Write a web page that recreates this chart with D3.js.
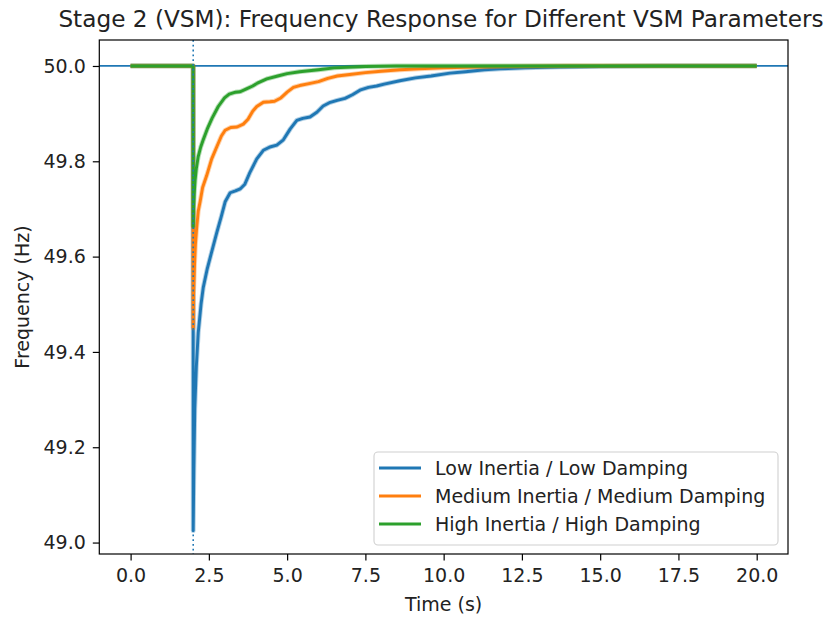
<!DOCTYPE html>
<html>
<head>
<meta charset="utf-8">
<script src="https://cdn.jsdelivr.net/npm/d3@7"></script>
<style>
  html, body { margin: 0; padding: 0; background: #fff; }
  svg { display: block; font-family: "DejaVu Sans", sans-serif; }
</style>
</head>
<body>
<svg id="chart" width="828" height="619"></svg>
<script>
// ---------------- data ----------------
const seriesNames = ["Low Inertia / Low Damping", "Medium Inertia / Medium Damping", "High Inertia / High Damping"];
const seriesColors = ["#1f77b4", "#ff7f0e", "#2ca02c"];

const lowTime = [0, 1.999, 2.0, 2.02, 2.05, 2.1, 2.16, 2.25, 2.32, 2.45, 2.55, 2.75, 2.9, 3.02, 3.18, 3.35, 3.5, 3.65, 3.8, 4.03, 4.24, 4.45, 4.67, 4.88, 5.1, 5.31, 5.5, 5.73, 5.95, 6.15, 6.35, 6.6, 6.85, 7.1, 7.35, 7.6, 7.86, 8.1, 8.6, 9.1, 9.6, 10.2, 10.7, 11.3, 11.8, 12.6, 13.7, 15, 17, 20];
const lowFreq = [50.0, 50.0, 49.025, 49.15, 49.28, 49.37, 49.44, 49.5, 49.535, 49.575, 49.6, 49.65, 49.685, 49.715, 49.734, 49.738, 49.742, 49.752, 49.775, 49.805, 49.823, 49.83, 49.834, 49.845, 49.868, 49.886, 49.89, 49.893, 49.903, 49.916, 49.923, 49.928, 49.932, 49.94, 49.95, 49.955, 49.958, 49.962, 49.969, 49.975, 49.979, 49.985, 49.988, 49.992, 49.994, 49.996, 49.998, 49.999, 50.0, 50.0];

const medTime = [0, 1.999, 2.0, 2.01, 2.04, 2.07, 2.11, 2.16, 2.22, 2.3, 2.43, 2.59, 2.75, 2.9, 3.02, 3.2, 3.4, 3.6, 3.75, 3.9, 4.03, 4.24, 4.45, 4.6, 4.8, 5.0, 5.2, 5.4, 5.7, 6.0, 6.3, 6.6, 7.0, 7.5, 8.0, 8.6, 9.2, 10, 11, 12, 14, 20];
const medFreq = [50.0, 50.0, 49.45, 49.52, 49.58, 49.625, 49.66, 49.695, 49.715, 49.745, 49.77, 49.805, 49.83, 49.853, 49.865, 49.871, 49.872, 49.878, 49.888, 49.905, 49.915, 49.924, 49.925, 49.926, 49.933, 49.945, 49.955, 49.959, 49.963, 49.967, 49.974, 49.979, 49.982, 49.986, 49.989, 49.992, 49.994, 49.996, 49.998, 49.999, 50.0, 50.0];

const highTime = [0, 1.999, 2.0, 2.01, 2.03, 2.06, 2.1, 2.16, 2.24, 2.32, 2.45, 2.6, 2.8, 3.0, 3.15, 3.35, 3.5, 3.7, 3.9, 4.05, 4.35, 4.7, 5.0, 5.4, 6.0, 6.5, 7.5, 8.5, 20];
const highFreq = [50.0, 50.0, 49.663, 49.7, 49.73, 49.76, 49.785, 49.81, 49.83, 49.845, 49.868, 49.89, 49.915, 49.933, 49.941, 49.945, 49.946, 49.952, 49.958, 49.964, 49.973, 49.979, 49.984, 49.988, 49.992, 49.996, 49.999, 50.0, 50.0];

const xTicks = [0, 2.5, 5, 7.5, 10, 12.5, 15, 17.5, 20];
const yTicks = [49.0, 49.2, 49.4, 49.6, 49.8, 50.0];
const nominalFreq = 50.0;
const eventTime = 2.0;

// ---------------- layout ----------------
const svg = d3.select("#chart");
const L = 99.3, R = 788, T = 40, B = 554;
const FS = 19;

const x = d3.scaleLinear().domain([-1, 21]).range([L, R]);
const y = d3.scaleLinear().domain([48.976, 50.0545]).range([B, T]);

const clipId = "plotclip";
svg.append("defs").append("clipPath").attr("id", clipId)
  .append("rect").attr("x", L).attr("y", T).attr("width", R - L).attr("height", B - T);

const plot = svg.append("g").attr("clip-path", `url(#${clipId})`);

// horizontal reference line (nominal)
plot.append("line")
  .attr("x1", L).attr("x2", R)
  .attr("y1", y(nominalFreq)).attr("y2", y(nominalFreq))
  .attr("stroke", "#1f77b4").attr("stroke-width", 1.8);

const series = [
  { t: lowTime, f: lowFreq },
  { t: medTime, f: medFreq },
  { t: highTime, f: highFreq }
];

const line = d3.line().x(d => x(d[0])).y(d => y(d[1]));

series.forEach((s, i) => {
  const pts = s.t.map((t, k) => [t, s.f[k]]);
  plot.append("path").datum(pts)
    .attr("d", line).attr("fill", "none")
    .attr("stroke", seriesColors[i]).attr("stroke-width", 4.8)
    .attr("stroke-opacity", 0.35).attr("stroke-linejoin", "round");
  plot.append("path").datum(pts)
    .attr("d", line).attr("fill", "none")
    .attr("stroke", seriesColors[i]).attr("stroke-width", 2.9)
    .attr("stroke-linejoin", "round");
});

// event line (dotted)
plot.append("line")
  .attr("x1", x(eventTime)).attr("x2", x(eventTime))
  .attr("y1", T).attr("y2", B)
  .attr("stroke", "#1f77b4").attr("stroke-width", 1.6)
  .attr("stroke-dasharray", "1.8,3");

// ---------------- axes ----------------
const xAxis = d3.axisBottom(x).tickValues(xTicks).tickFormat(d3.format(".1f")).tickSizeOuter(0).tickSize(6.5).tickPadding(8.5);
const yAxis = d3.axisLeft(y).tickValues(yTicks).tickFormat(d3.format(".1f")).tickSizeOuter(0).tickSize(6.5).tickPadding(7);

const gx = svg.append("g").attr("transform", `translate(0,${B})`).call(xAxis);
const gy = svg.append("g").attr("transform", `translate(${L},0)`).call(yAxis);
[gx, gy].forEach(g => {
  g.select(".domain").remove();
  g.selectAll(".tick line").attr("stroke", "#000").attr("stroke-width", 1.2);
  g.selectAll(".tick text").attr("fill", "#222").attr("font-size", FS).attr("font-family", "DejaVu Sans");
});

// frame
svg.append("rect").attr("x", L).attr("y", T).attr("width", R - L).attr("height", B - T)
  .attr("fill", "none").attr("stroke", "#000").attr("stroke-width", 1.2);

// labels
svg.append("text").attr("x", 441).attr("y", 27).attr("text-anchor", "middle")
  .attr("font-size", 23.2).attr("fill", "#222")
  .text("Stage 2 (VSM): Frequency Response for Different VSM Parameters");
svg.append("text").attr("x", (L + R) / 2).attr("y", 611).attr("text-anchor", "middle")
  .attr("font-size", FS).attr("fill", "#222").text("Time (s)");
svg.append("text").attr("transform", `translate(29,${(T + B) / 2}) rotate(-90)`)
  .attr("text-anchor", "middle").attr("font-size", FS).attr("fill", "#222").text("Frequency (Hz)");

// ---------------- legend ----------------
const lg = svg.append("g");
lg.append("rect").attr("x", 374).attr("y", 452).attr("width", 404).attr("height", 93)
  .attr("rx", 4).attr("fill", "#fff").attr("fill-opacity", 0.8)
  .attr("stroke", "#d0d0d0").attr("stroke-width", 1.1);
seriesNames.forEach((name, i) => {
  const cy = 468 + i * 28;
  lg.append("line").attr("x1", 379).attr("x2", 421).attr("y1", cy).attr("y2", cy)
    .attr("stroke", seriesColors[i]).attr("stroke-width", 2.8);
  lg.append("text").attr("x", 435).attr("y", cy).attr("dy", "0.35em")
    .attr("font-size", FS).attr("fill", "#222").text(name);
});
</script>
</body>
</html>
